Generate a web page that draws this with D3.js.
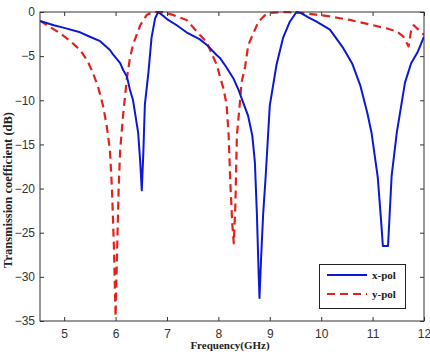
<!DOCTYPE html>
<html><head><meta charset="utf-8">
<script src="https://cdn.jsdelivr.net/npm/d3@7"></script>
<style>body{margin:0;background:#fff}svg{display:block}</style>
</head><body><div id="chart"></div>
<script>
const xTicks = [5,6,7,8,9,10,11,12];
const yTicks = [0,-5,-10,-15,-20,-25,-30,-35];
const xpolFreq = [4.53,4.8,5.0,5.31,5.5,5.7,5.89,5.95,6.09,6.15,6.22,6.28,6.34,6.44,6.48,6.51,6.54,6.57,6.64,6.70,6.77,6.83,6.9,7.0,7.19,7.38,7.51,7.64,7.77,7.97,8.03,8.15,8.29,8.39,8.48,8.58,8.66,8.71,8.75,8.78,8.80,8.83,8.87,8.92,9.0,9.13,9.26,9.39,9.52,9.6,9.75,9.91,10.17,10.43,10.6,10.76,10.9,10.98,11.1,11.17,11.2,11.3,11.34,11.37,11.47,11.63,11.75,11.88,12.0];
const xpolVal = [-1.0,-1.5,-1.8,-2.3,-2.8,-3.3,-4.3,-4.8,-5.8,-6.6,-7.3,-8.8,-10,-13.7,-17,-20.2,-16,-10.5,-6.8,-2.9,-0.7,0,-0.3,-0.8,-1.5,-2.3,-2.7,-3.1,-3.7,-4.9,-5.2,-6.2,-7.5,-8.8,-10.2,-11.8,-14,-17,-23,-29,-32.4,-28,-23,-18.6,-10.6,-6,-2.9,-1.1,0,-0.1,-0.6,-1.1,-2.0,-4.1,-5.8,-8.3,-11.5,-13.7,-18.7,-24,-26.5,-26.5,-22,-18.6,-13.7,-8,-5.8,-4.5,-2.8];
const ypolFreq = [4.53,4.92,5.1,5.31,5.45,5.56,5.66,5.76,5.83,5.89,5.93,5.97,6.0,6.03,6.06,6.09,6.15,6.22,6.28,6.34,6.48,6.61,6.73,6.9,7.1,7.38,7.64,7.77,7.84,7.97,8.03,8.10,8.16,8.20,8.23,8.27,8.30,8.33,8.36,8.42,8.45,8.52,8.58,8.62,8.78,8.9,9.0,9.3,9.6,9.9,10.17,10.56,11.01,11.3,11.47,11.6,11.7,11.76,11.8,12.0];
const ypolVal = [-1.0,-2.4,-3.2,-4.3,-5.5,-6.9,-8.5,-10.7,-13,-15.6,-20,-27,-34.5,-27,-20,-15.6,-11.5,-7.5,-5.2,-3.7,-1.5,-0.3,0,0,-0.3,-0.9,-2.6,-3.4,-4.3,-6,-7.3,-8.7,-10.5,-14,-19,-24,-26.2,-22,-14,-10.2,-8,-6.2,-3.8,-3.2,-1.1,-0.4,-0.1,0,-0.1,-0.3,-0.5,-0.9,-1.5,-1.9,-2.2,-2.8,-3.9,-1.7,-1.5,-2.6];
const seriesNames = ["x-pol","y-pol"];

const W=430,H=356, L=40,R=424,T=12,B=321;
const svg=d3.select("#chart").append("svg").attr("width",W).attr("height",H);
const x=d3.scaleLinear().domain([4.53,12]).range([L,R]);
const y=d3.scaleLinear().domain([-35,0]).range([B,T]);
const frame="#333";
const tickFont="'Liberation Sans', Arial, sans-serif";
const serif="'Liberation Serif','Times New Roman',serif";

function styleAxis(g){
  g.select(".domain").remove();
  g.selectAll(".tick line").attr("stroke",frame);
  g.selectAll(".tick text").attr("fill","#333").style("font-family",tickFont).style("font-size","12px");
}
svg.append("g").attr("transform",`translate(0,${B})`)
  .call(d3.axisBottom(x).tickValues(xTicks).tickSize(-4).tickPadding(8).tickFormat(d3.format("d"))).call(styleAxis);
svg.append("g").attr("transform",`translate(0,${T})`)
  .call(d3.axisTop(x).tickValues(xTicks).tickSize(-4).tickFormat("")).call(styleAxis);
svg.append("g").attr("transform",`translate(${L},0)`)
  .call(d3.axisLeft(y).tickValues(yTicks).tickSize(-4).tickPadding(5).tickFormat(d3.format("d"))).call(styleAxis);
svg.append("g").attr("transform",`translate(${R},0)`)
  .call(d3.axisRight(y).tickValues(yTicks).tickSize(-4).tickFormat("")).call(styleAxis);

svg.append("defs").append("clipPath").attr("id","clip").append("rect")
  .attr("x",L).attr("y",T-2).attr("width",R-L).attr("height",B-T+2);

const line=d3.line().x(d=>x(d[0])).y(d=>y(d[1]));
const xpol=xpolFreq.map((f,i)=>[f,xpolVal[i]]);
const ypol=ypolFreq.map((f,i)=>[f,ypolVal[i]]);
const gLines=svg.append("g").attr("clip-path","url(#clip)");
gLines.append("path").datum(ypol).attr("d",line).attr("fill","none")
  .attr("stroke","#e3221e").attr("stroke-width",2.2).attr("stroke-dasharray","8,5").attr("stroke-linejoin","round");
gLines.append("path").datum(xpol).attr("d",line).attr("fill","none")
  .attr("stroke","#0c18d6").attr("stroke-width",2).attr("stroke-linejoin","round");

svg.append("rect").attr("x",L).attr("y",T).attr("width",R-L).attr("height",B-T)
  .attr("fill","none").attr("stroke",frame).attr("stroke-width",1);

// legend
const lg=svg.append("g");
lg.append("rect").attr("x",319.5).attr("y",264.5).attr("width",86).attr("height",44)
  .attr("fill","#fff").attr("stroke","#222").attr("stroke-width",1);
const legendItems=[{name:seriesNames[0],color:"#0c18d6",dash:null,yy:275},{name:seriesNames[1],color:"#e3221e",dash:"8,5",yy:294}];
legendItems.forEach(it=>{
  lg.append("line").attr("x1",327).attr("x2",367).attr("y1",it.yy).attr("y2",it.yy)
    .attr("stroke",it.color).attr("stroke-width",2).attr("stroke-dasharray",it.dash);
  lg.append("text").attr("x",372).attr("y",it.yy+4).text(it.name)
    .style("font-family",serif).style("font-size","11px").style("font-weight","bold").attr("fill","#222");
});

svg.append("text").attr("x",230).attr("y",349).attr("text-anchor","middle").text("Frequency(GHz)")
  .style("font-family",serif).style("font-size","11px").style("font-weight","bold").attr("fill","#222");
svg.append("text").attr("transform","translate(12,190) rotate(-90)").attr("text-anchor","middle").text("Transmission coefficient (dB)")
  .style("font-family",serif).style("font-size","12.5px").style("font-weight","bold").attr("fill","#222");
</script></body></html>
